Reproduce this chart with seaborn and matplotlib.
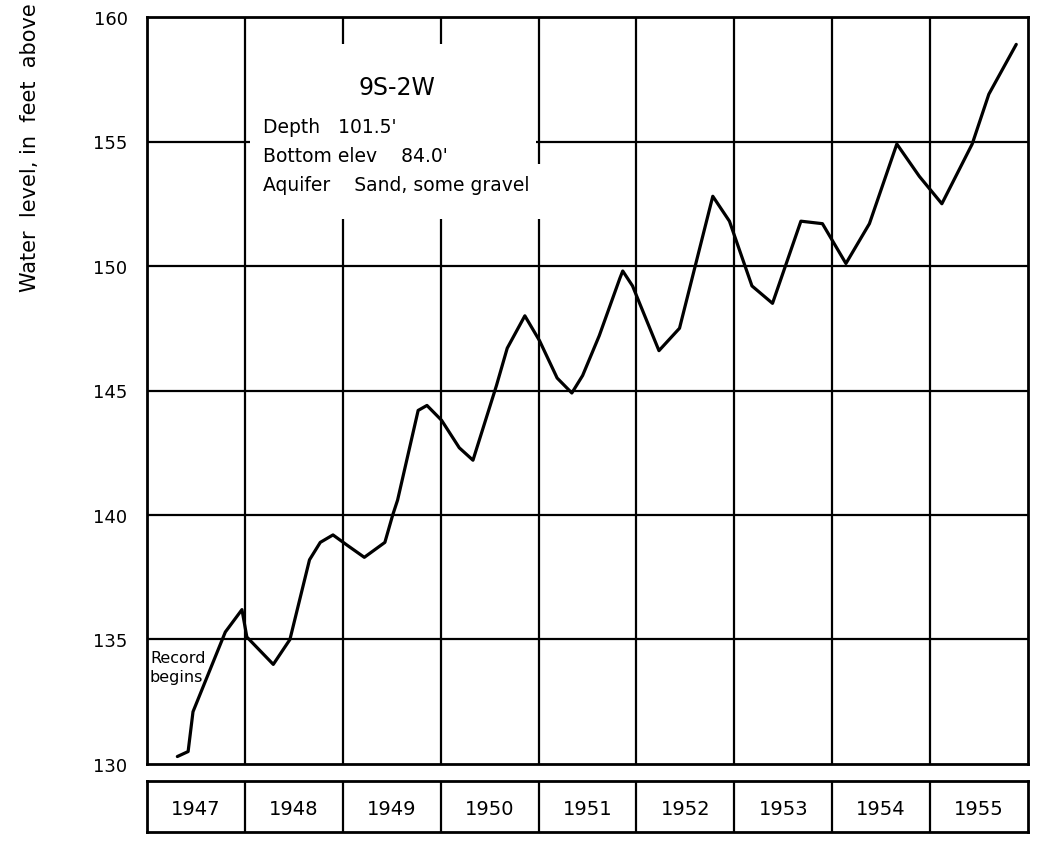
import matplotlib
matplotlib.use("Agg")
import matplotlib.pyplot as plt
import matplotlib.patches as mpatches
import numpy as np
import pandas as pd
import seaborn as sns

# Hydrograph of well 9S-2W: decimal year and water level (ft)
years_decimal = [1947.31, 1947.42, 1947.47, 1947.80, 1947.97, 1948.02, 1948.29, 1948.46,
                 1948.66, 1948.77, 1948.90, 1949.04, 1949.22, 1949.43, 1949.51, 1949.56,
                 1949.77, 1949.86, 1950.01, 1950.19, 1950.33, 1950.57, 1950.68, 1950.86,
                 1951.01, 1951.19, 1951.34, 1951.45, 1951.62, 1951.83, 1951.86, 1951.96,
                 1952.23, 1952.44, 1952.78, 1952.95, 1953.18, 1953.39, 1953.68, 1953.90,
                 1954.14, 1954.38, 1954.66, 1954.89, 1955.12, 1955.43, 1955.60, 1955.88]
water_level = [130.3, 130.5, 132.1, 135.3, 136.2, 135.1, 134.0, 135.0,
               138.2, 138.9, 139.2, 138.8, 138.3, 138.9, 140.0, 140.6,
               144.2, 144.4, 143.8, 142.7, 142.2, 145.2, 146.7, 148.0,
               147.0, 145.5, 144.9, 145.6, 147.2, 149.5, 149.8, 149.2,
               146.6, 147.5, 152.8, 151.8, 149.2, 148.5, 151.8, 151.7,
               150.1, 151.7, 154.9, 153.6, 152.5, 154.9, 156.9, 158.9]

year_labels = ["1947", "1948", "1949", "1950", "1951", "1952", "1953", "1954", "1955"]
level_ticks = [130, 135, 140, 145, 150, 155, 160]

well_name = "9S-2W"
well_info = ["Depth   101.5'", "Bottom elev    84.0'", "Aquifer    Sand, some gravel"]

sns.set_style("white", {"text.color": "black", "axes.labelcolor": "black",
                        "ytick.color": "black", "xtick.color": "black"})
plt.rcParams["font.family"] = ["DejaVu Sans"]

df = pd.DataFrame({"year": years_decimal, "level": water_level})

W, H = 1039, 845
fig = plt.figure(figsize=(W / 100, H / 100), dpi=100)
ax = fig.add_axes([147 / W, 1 - 765 / H, (1028 - 147) / W, (765 - 18) / H])

x0, x1 = 1947, 1956
ax.set_xlim(x0, x1)
ax.set_ylim(130, 160)

# grid: one column per year, one row per 5 ft
for yr in range(x0 + 1, x1):
    ax.axvline(yr, color="black", lw=1.6, zorder=1)
for lv in level_ticks[1:-1]:
    ax.axhline(lv, color="black", lw=1.6, zorder=1)

# blank panel behind the well description
ax.add_patch(mpatches.Rectangle((1948.05, 151.9), 2.92, 7.0, facecolor="white",
                                edgecolor="none", zorder=2))
ax.add_patch(mpatches.Rectangle((1950.9, 151.9), 1.0, 2.2, facecolor="white",
                                edgecolor="none", zorder=2))

sns.lineplot(data=df, x="year", y="level", ax=ax, color="black", lw=2.3,
             zorder=4, legend=False)

for s in ax.spines.values():
    s.set_color("black")
    s.set_linewidth(2.0)

ax.set_xticks([])
ax.set_yticks(level_ticks)
ax.set_yticklabels([str(v) for v in level_ticks], fontsize=13, color="black")
ax.tick_params(axis="y", length=0, pad=14)
ax.set_xlabel("")
ax.set_ylabel("")

# well description
ax.text(1949.55, 157.2, well_name, fontsize=17, ha="center", va="center",
        color="black", zorder=5)
for i, line in enumerate(well_info):
    ax.text(1948.18, 155.6 - i * 1.17, line, fontsize=13.5, ha="left", va="center",
            color="black", zorder=5)
ax.text(1947.03, 133.9, "Record\nbegins", fontsize=11.5, ha="left", va="center",
        linespacing=1.3, color="black", zorder=5)

# year strip beneath the chart
ax2 = fig.add_axes([147 / W, 1 - 833 / H, (1028 - 147) / W, (833 - 782) / H])
ax2.set_xlim(x0, x1)
ax2.set_ylim(0, 1)
for yr in range(x0 + 1, x1):
    ax2.axvline(yr, color="black", lw=1.6)
for i, lab in enumerate(year_labels):
    ax2.text(x0 + i + 0.5, 0.47, lab, fontsize=14, ha="center", va="center",
             color="black")
ax2.set_xticks([])
ax2.set_yticks([])
for s in ax2.spines.values():
    s.set_color("black")
    s.set_linewidth(2.0)

fig.text(30 / W, 1 - 292 / H, "Water  level, in  feet  above", rotation=90,
         fontsize=15, ha="center", va="bottom", color="black")

fig.savefig("out.png", dpi=100, facecolor="white")
